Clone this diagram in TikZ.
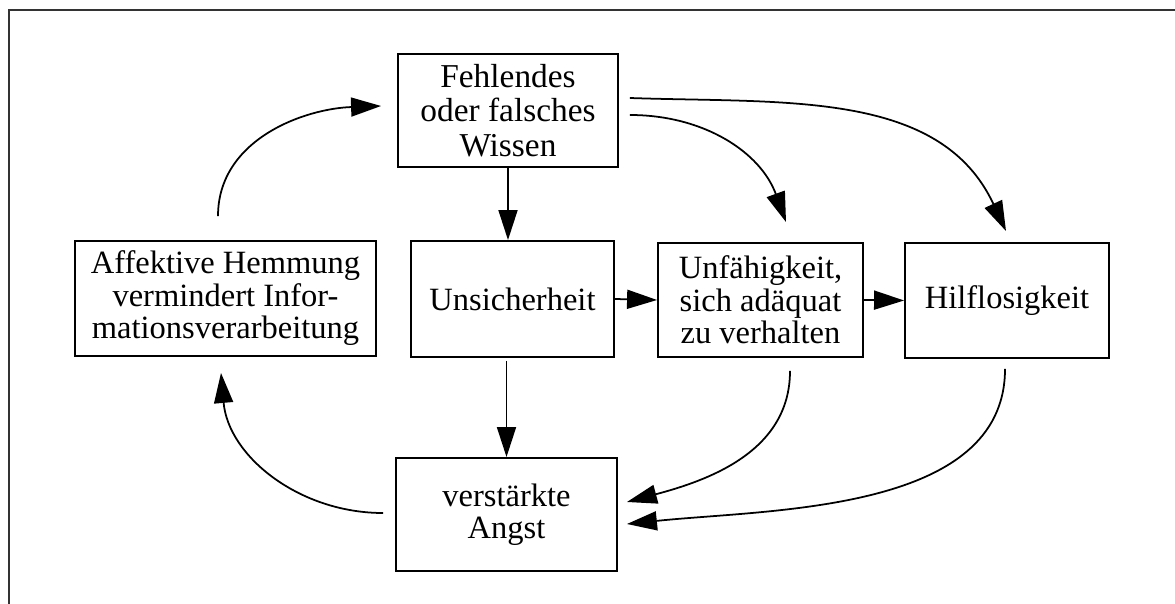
\documentclass[tikz,border=0pt]{standalone}
\usepackage{fontspec}
\setmainfont{Liberation Serif}
\usetikzlibrary{arrows.meta}
\tikzset{
  blk/.style={draw,line width=1.1pt,inner sep=0pt,align=center,font=\fontsize{18.5}{18.5}\selectfont},
  arr/.style={-{Triangle[length=0.6cm,width=0.38cm]},line width=1pt},
  frame/.style={draw=black!80,line width=1pt}
}
\begin{document}
\begin{tikzpicture}[x=0.02cm,y=-0.02cm]
  \useasboundingbox (0,0) rectangle (1175,604);
  \draw[frame] (1175,10) -- (9,10) -- (9,604);
  % boxes
  \node[blk,font=\fontsize{19}{19.5}\selectfont,minimum width=4.4cm,minimum height=2.26cm] at (508,110.5) (wissen) {Fehlendes\\oder falsches\\Wissen};
  \node[blk,minimum width=4.06cm,minimum height=2.32cm] at (512.5,299) (unsicher) {Unsicherheit};
  \node[blk,minimum width=4.1cm,minimum height=2.28cm] at (760.5,300) (unfaehig) {Unfähigkeit,\\sich adäquat\\zu verhalten};
  \node[blk,minimum width=4.08cm,minimum height=2.3cm] at (1007,300.5) (hilflos) {Hilflosigkeit};
  \node[blk,minimum width=6.02cm,minimum height=2.3cm] at (225.5,298.5) (hemmung) {Affektive Hemmung\\vermindert Infor-\\mationsverarbeitung};
  \node[blk,minimum width=4.42cm,minimum height=2.26cm] at (506.5,514.5) (angst) {verstärkte\\Angst};
  % straight arrows
  \draw[arr] (wissen.south) -- (wissen.south |- unsicher.north);
  \draw[arr] ([shift={(-6,3)}]unsicher.south) -- (angst.north);
  \draw[arr] (unsicher.east) -- (unfaehig.west);
  \draw[arr] (unfaehig.east) -- (hilflos.west);
  % curved arrows
  \draw[arr] ([shift={(11,4.5)}]wissen.east) to[out=0,in=110] ([shift={(25.5,-20)}]unfaehig.north);
  \draw[arr] ([shift={(11,-12.5)}]wissen.east) to[out=-2,in=115] ([shift={(-1,-11)}]hilflos.north);
  \draw[arr] ([shift={(29.5,13)}]unfaehig.south) to[out=-90,in=15] ([shift={(9,-12.5)}]angst.east);
  \draw[arr] ([shift={(-2,10)}]hilflos.south) to[out=-90,in=6,looseness=0.9] ([shift={(9,9.5)}]angst.east);
  \draw[arr] ([shift={(-12,-1.5)}]angst.west) to[out=180,in=-85] ([shift={(-4.5,16)}]hemmung.south);
  \draw[arr] ([shift={(-7.5,-24)}]hemmung.north) to[out=90,in=182] ([shift={(-16,-4.5)}]wissen.west);
\end{tikzpicture}
\end{document}
